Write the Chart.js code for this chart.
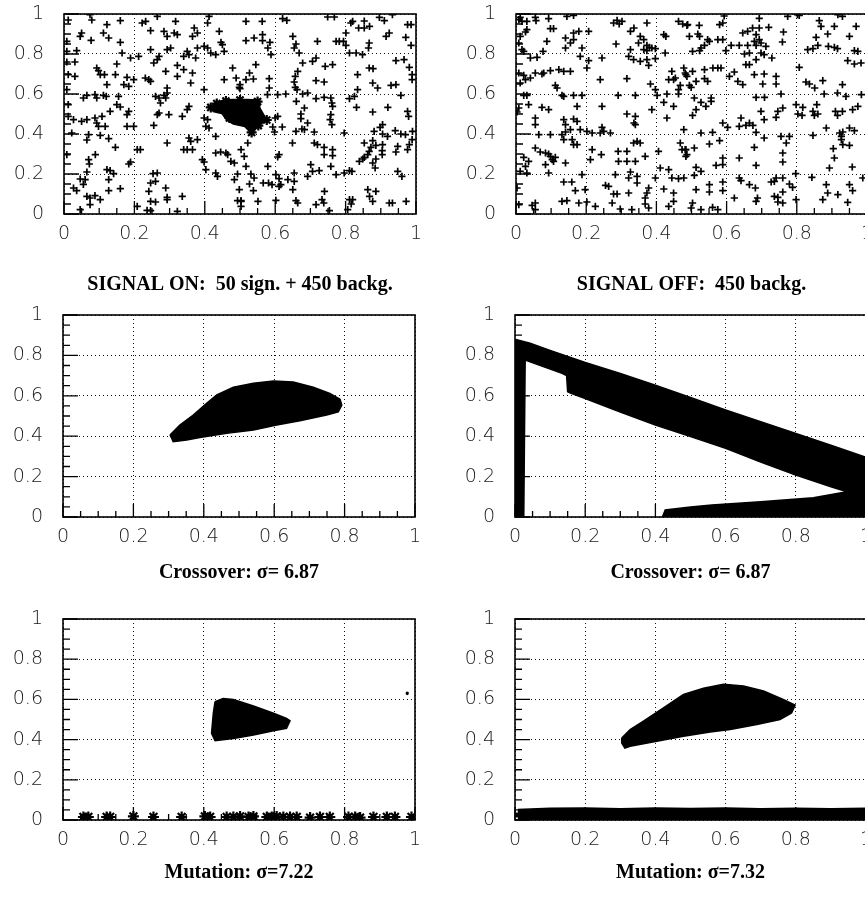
<!DOCTYPE html>
<html lang="en">
<head>
<meta charset="UTF-8">
<title>Signal / background scatter plots</title>
<script src="https://cdn.jsdelivr.net/npm/chart.js@4"></script>
<style>
  html, body { margin: 0; padding: 0; background: #fff; width: 865px; height: 898px; overflow: hidden; }
  canvas { position: absolute; }
</style>
</head>
<body>
<canvas id="p1" width="432" height="300" style="left:0px;top:0px;width:432px;height:300px"></canvas>
<canvas id="p2" width="432" height="300" style="left:452px;top:0px;width:432px;height:300px"></canvas>
<canvas id="p3" width="432" height="300" style="left:0px;top:300px;width:432px;height:300px"></canvas>
<canvas id="p4" width="432" height="300" style="left:451px;top:300px;width:432px;height:300px"></canvas>
<canvas id="p5" width="432" height="300" style="left:0px;top:600px;width:432px;height:300px"></canvas>
<canvas id="p6" width="432" height="300" style="left:451px;top:600px;width:432px;height:300px"></canvas>
<script>
// axis ticks
const tickValues = [0, 0.2, 0.4, 0.6, 0.8, 1];
const tickLabels = ['0', '0.2', '0.4', '0.6', '0.8', '1'];
const minorTicks = [0.05, 0.1, 0.15, 0.25, 0.3, 0.35, 0.45, 0.5, 0.55, 0.65, 0.7, 0.75, 0.85, 0.9, 0.95];

const titles = [
  'SIGNAL ON:  50 sign. + 450 backg.',
  'SIGNAL OFF:  450 backg.',
  'Crossover: \u03c3= 6.87',
  'Crossover: \u03c3= 6.87',
  'Mutation: \u03c3=7.22',
  'Mutation: \u03c3=7.32'
];

// top-left: background events (crosses) + signal cluster
const signalOnBackground = [
  [0.012,0.97],[0.074,0.997],[0.079,0.97],[0.122,0.947],[0.16,0.967],[0.222,0.955],[0.232,0.963],[0.265,0.988],[0.317,0.963],[0.412,0.988],[0.408,0.955],
  [0.05,0.905],[0.046,0.888],[0.077,0.868],[0.112,0.905],[0.127,0.88],[0.16,0.858],[0.246,0.917],[0.284,0.913],[0.293,0.888],[0.313,0.905],[0.322,0.897],[0.37,0.93],[0.379,0.905],[0.365,0.888],[0.441,0.913],[0.008,0.863],[0.446,0.858],[0.45,0.847],[0.398,0.838],[0.408,0.83],
  [0.036,0.817],[0.008,0.813],[0.165,0.805],[0.246,0.822],[0.293,0.822],[0.303,0.83],[0.35,0.813],[0.355,0.797],[0.379,0.83],[0.34,0.788],[0.374,0.78],[0.417,0.805],[0.431,0.797],[0.455,0.813],
  [0.008,0.76],[0.031,0.76],[0.189,0.78],[0.212,0.788],[0.265,0.772],[0.27,0.788],[0.255,0.755],[0.15,0.75],[0.093,0.73],[0.098,0.717],[0.322,0.743],[0.34,0.722],[0.289,0.713],[0.365,0.705],[0.479,0.73],
  [0.012,0.697],[0.031,0.688],[0.103,0.697],[0.115,0.697],[0.146,0.697],[0.179,0.683],[0.322,0.688],[0.455,0.672],[0.489,0.68],[0.198,0.672],[0.231,0.68],[0.241,0.672],[0.246,0.663],[0.36,0.655],[0.122,0.647],[0.17,0.647],[0.184,0.638],[0.293,0.63],[0.498,0.633],[0.008,0.622],
  [0.055,0.58],[0.065,0.593],[0.088,0.597],[0.112,0.593],[0.12,0.588],[0.093,0.58],[0.155,0.588],[0.26,0.588],[0.27,0.58],[0.284,0.593],[0.293,0.605],[0.274,0.555],[0.289,0.58],[0.398,0.622],
  [0.012,0.547],[0.15,0.547],[0.16,0.535],[0.184,0.513],[0.179,0.497],[0.131,0.513],[0.265,0.497],[0.27,0.505],[0.298,0.497],[0.35,0.522],[0.355,0.538],[0.336,0.488],
  [0.012,0.488],[0.027,0.472],[0.05,0.463],[0.065,0.472],[0.088,0.48],[0.093,0.455],[0.108,0.488],[0.098,0.438],[0.117,0.438],[0.179,0.438],[0.198,0.438],[0.255,0.443],[0.398,0.48],[0.408,0.472],[0.403,0.438],[0.412,0.43],
  [0.022,0.405],[0.07,0.397],[0.103,0.393],[0.127,0.377],[0.065,0.37],[0.355,0.38],[0.36,0.363],[0.379,0.372],[0.431,0.388],[0.293,0.355],[0.146,0.333],[0.208,0.322],[0.217,0.322],[0.34,0.322],[0.35,0.322],[0.365,0.322],[0.431,0.305],[0.445,0.31],[0.46,0.305],[0.465,0.297],[0.008,0.297],[0.089,0.297],
  [0.07,0.272],[0.072,0.25],[0.393,0.272],[0.398,0.26],[0.474,0.263],[0.484,0.255],[0.184,0.25],[0.189,0.26],[0.403,0.222],[0.122,0.222],[0.131,0.217],[0.065,0.21],[0.141,0.202],[0.253,0.202],[0.265,0.205],[0.431,0.205],[0.436,0.188],[0.484,0.172],[0.046,0.175],[0.06,0.172],[0.127,0.172],[0.246,0.155],[0.26,0.163],
  [0.027,0.13],[0.036,0.117],[0.055,0.148],[0.127,0.117],[0.16,0.127],[0.241,0.113],[0.289,0.13],[0.065,0.088],[0.074,0.08],[0.088,0.092],[0.103,0.072],[0.293,0.083],[0.293,0.072],[0.246,0.063],[0.26,0.06],[0.336,0.088],[0.493,0.067],[0.503,0.063],[0.074,0.047],[0.046,0.022],[0.208,0.038],[0.236,0.018],[0.246,0.017],[0.322,0.013],
  [0.517,0.963],[0.563,0.963],[0.621,0.977],[0.633,0.968],[0.749,0.985],[0.768,0.985],[0.815,0.955],[0.82,0.963],[0.853,0.965],[0.837,0.93],[0.853,0.93],[0.868,0.938],[0.896,0.983],[0.91,0.967],[0.933,0.997],[0.976,0.947],[0.986,0.947],[0.801,0.905],[0.924,0.905],[0.915,0.888],[0.971,0.883],
  [0.517,0.867],[0.54,0.88],[0.564,0.897],[0.564,0.867],[0.585,0.858],[0.65,0.888],[0.659,0.85],[0.72,0.863],[0.773,0.863],[0.782,0.863],[0.794,0.863],[0.801,0.843],[0.867,0.855],[0.865,0.83],[0.986,0.843],
  [0.579,0.83],[0.588,0.797],[0.654,0.83],[0.668,0.805],[0.811,0.805],[0.83,0.805],[0.848,0.797],[0.716,0.78],[0.706,0.763],[0.678,0.755],[0.742,0.738],[0.763,0.747],[0.943,0.767],[0.966,0.772],[0.981,0.733],[0.545,0.747],[0.527,0.705],[0.867,0.73],[0.878,0.727],[0.664,0.713],[0.834,0.697],[0.989,0.697],[0.989,0.672],
  [0.517,0.672],[0.538,0.675],[0.583,0.677],[0.657,0.688],[0.654,0.66],[0.657,0.633],[0.662,0.622],[0.716,0.667],[0.739,0.66],[0.877,0.655],[0.891,0.63],[0.929,0.643],[0.943,0.647],[0.5,0.647],[0.5,0.627],[0.583,0.63],
  [0.578,0.597],[0.607,0.597],[0.63,0.6],[0.678,0.6],[0.692,0.605],[0.739,0.583],[0.758,0.58],[0.761,0.555],[0.763,0.538],[0.811,0.577],[0.825,0.588],[0.834,0.622],[0.957,0.593],[0.66,0.563],[0.683,0.53],[0.716,0.577],[0.831,0.533],[0.877,0.51],[0.92,0.533],[0.976,0.513],[0.979,0.488],
  [0.607,0.488],[0.6,0.48],[0.673,0.5],[0.673,0.477],[0.758,0.497],[0.756,0.472],[0.761,0.447],[0.692,0.455],[0.905,0.447],[0.898,0.433],[0.593,0.435],[0.598,0.41],[0.62,0.435],[0.659,0.413],[0.676,0.425],[0.683,0.422],[0.711,0.41],[0.796,0.405],[0.881,0.413],[0.905,0.4],[0.919,0.388],[0.941,0.417],[0.957,0.4],[0.97,0.397],[0.99,0.413],[0.989,0.372],
  [0.522,0.355],[0.649,0.355],[0.711,0.355],[0.72,0.347],[0.853,0.355],[0.877,0.367],[0.872,0.333],[0.886,0.343],[0.905,0.347],[0.948,0.338],[0.981,0.347],[0.976,0.322],[0.739,0.333],[0.763,0.322],[0.503,0.322],[0.867,0.313],[0.863,0.297],[0.904,0.317],[0.904,0.297],[0.739,0.297],[0.763,0.292],[0.943,0.31],[0.512,0.288],[0.611,0.297],[0.607,0.285],[0.849,0.275],[0.839,0.263],[0.853,0.283],[0.886,0.275],[0.877,0.255],
  [0.517,0.238],[0.579,0.238],[0.701,0.247],[0.758,0.238],[0.884,0.23],[0.706,0.213],[0.654,0.205],[0.725,0.217],[0.811,0.217],[0.818,0.213],[0.796,0.205],[0.773,0.197],[0.948,0.213],[0.96,0.188],[0.493,0.2],[0.531,0.2],[0.54,0.18],[0.602,0.197],[0.611,0.177],[0.636,0.172],[0.654,0.163],[0.692,0.188],
  [0.566,0.155],[0.581,0.155],[0.591,0.147],[0.611,0.138],[0.616,0.147],[0.527,0.15],[0.65,0.122],[0.498,0.122],[0.538,0.117],[0.74,0.113],[0.863,0.122],[0.886,0.113],[0.551,0.063],[0.602,0.068],[0.659,0.067],[0.664,0.055],[0.733,0.072],[0.738,0.055],[0.716,0.047],[0.811,0.072],[0.82,0.072],[0.816,0.05],[0.868,0.088],[0.877,0.063],[0.924,0.055],[0.933,0.055],[0.972,0.063],[0.503,0.067],[0.503,0.038],[0.806,0.022],[0.754,0.017]
];
const signalOnCluster = [
  [0.417,0.533],[0.434,0.55],[0.453,0.57],[0.481,0.573],[0.519,0.573],[0.552,0.57],[0.557,0.528],[0.576,0.47],[0.552,0.44],[0.533,0.403],
  [0.514,0.437],[0.481,0.45],[0.462,0.47],[0.448,0.503],[0.424,0.512],[0.417,0.533]
];
const signalOnStars = [[0.417,0.533],[0.434,0.552],[0.576,0.47],[0.552,0.442],[0.533,0.408],[0.536,0.472],[0.46,0.565],[0.55,0.562],[0.5,0.57],[0.47,0.48]];

// top-right: background only
const signalOffBackground = [
  [0.008,0.972],[0.017,0.963],[0.012,0.983],[0.031,0.963],[0.055,0.983],[0.057,0.967],[0.093,0.977],[0.145,0.988],[0.164,0.993],
  [0.027,0.91],[0.031,0.922],[0.098,0.927],[0.107,0.927],[0.012,0.888],[0.008,0.855],[0.088,0.863],[0.141,0.88],[0.164,0.905],[0.179,0.913],[0.155,0.855],[0.164,0.872],[0.207,0.913],
  [0.278,0.955],[0.288,0.968],[0.302,0.963],[0.294,0.95],[0.373,0.955],[0.326,0.913],[0.336,0.93],[0.463,0.963],[0.475,0.95],[0.487,0.943],[0.421,0.897],[0.427,0.888],[0.354,0.888],[0.349,0.855],[0.364,0.872],[0.373,0.843],[0.285,0.85],
  [0.141,0.83],[0.188,0.83],[0.017,0.822],[0.022,0.813],[0.077,0.813],[0.364,0.822],[0.373,0.817],[0.387,0.83],[0.397,0.827],[0.38,0.833],[0.326,0.822],[0.425,0.805],
  [0.041,0.78],[0.06,0.783],[0.183,0.788],[0.245,0.78],[0.321,0.788],[0.335,0.772],[0.354,0.763],[0.373,0.772],[0.378,0.743],[0.397,0.777],[0.207,0.767],[0.202,0.73],
  [0.008,0.705],[0.022,0.693],[0.055,0.705],[0.074,0.7],[0.079,0.705],[0.098,0.717],[0.122,0.722],[0.136,0.713],[0.155,0.713],[0.041,0.68],[0.027,0.672],[0.012,0.655],[0.24,0.672],[0.316,0.677],
  [0.444,0.713],[0.454,0.68],[0.435,0.672],[0.449,0.672],[0.478,0.73],[0.482,0.705],[0.487,0.688],[0.468,0.643],[0.463,0.622],[0.383,0.65],[0.397,0.622],[0.112,0.643],[0.117,0.63],
  [0.022,0.593],[0.031,0.593],[0.131,0.593],[0.136,0.588],[0.164,0.593],[0.188,0.593],[0.291,0.593],[0.34,0.593],[0.402,0.593],[0.43,0.6],[0.463,0.6],
  [0.036,0.547],[0.008,0.53],[0.003,0.51],[0.074,0.533],[0.093,0.522],[0.174,0.538],[0.245,0.538],[0.387,0.522],[0.421,0.558],[0.449,0.538],[0.316,0.5],[0.34,0.488],[0.43,0.48],
  [0.055,0.48],[0.055,0.447],[0.136,0.472],[0.141,0.447],[0.164,0.475],[0.174,0.463],[0.336,0.455],[0.34,0.447],[0.245,0.433],[0.25,0.413],[0.478,0.422],[0.155,0.422],[0.183,0.422],[0.202,0.413],[0.217,0.405],[0.24,0.405],[0.269,0.405],[0.065,0.397],[0.098,0.397],[0.131,0.397],[0.141,0.41],
  [0.16,0.372],[0.164,0.347],[0.174,0.347],[0.136,0.372],[0.335,0.355],[0.345,0.363],[0.354,0.355],[0.468,0.355],[0.473,0.322],[0.482,0.322],[0.487,0.297],
  [0.055,0.33],[0.069,0.31],[0.084,0.305],[0.093,0.3],[0.098,0.288],[0.103,0.272],[0.107,0.263],[0.112,0.283],[0.141,0.255],[0.084,0.247],[0.022,0.283],[0.036,0.263],[0.027,0.238],
  [0.217,0.322],[0.243,0.297],[0.212,0.272],[0.291,0.313],[0.316,0.313],[0.292,0.263],[0.316,0.263],[0.34,0.263],[0.406,0.313],[0.411,0.23],[0.368,0.288],
  [0.012,0.213],[0.031,0.205],[0.093,0.205],[0.188,0.197],[0.283,0.197],[0.326,0.21],[0.321,0.18],[0.345,0.188],[0.397,0.18],[0.444,0.18],[0.463,0.177],[0.478,0.18],[0.435,0.222],
  [0.136,0.16],[0.159,0.16],[0.003,0.13],[0.169,0.117],[0.197,0.122],[0.255,0.143],[0.264,0.138],[0.345,0.155],[0.378,0.13],[0.373,0.105],[0.421,0.125],[0.449,0.105],[0.278,0.1],[0.288,0.1],[0.321,0.105],
  [0.131,0.063],[0.145,0.067],[0.179,0.055],[0.202,0.06],[0.226,0.038],[0.274,0.055],[0.368,0.08],[0.368,0.05],[0.378,0.03],[0.449,0.063],[0.435,0.038],[0.008,0.047],[0.046,0.043],[0.055,0.055],[0.055,0.022],[0.297,0.025],[0.33,0.022],
  [0.489,0.947],[0.522,0.943],[0.494,0.888],[0.518,0.9],[0.523,0.888],[0.546,0.872],[0.551,0.863],[0.575,0.872],[0.589,0.872],[0.58,0.947],[0.589,0.955],[0.593,0.99],
  [0.527,0.83],[0.523,0.817],[0.503,0.813],[0.537,0.843],[0.598,0.817],[0.613,0.843],[0.636,0.843],[0.66,0.843],[0.684,0.843],[0.712,0.838],
  [0.646,0.905],[0.66,0.913],[0.674,0.93],[0.693,0.93],[0.684,0.897],[0.693,0.872],[0.679,0.863],[0.698,0.855],[0.693,0.978],[0.72,0.933],[0.762,0.91],[0.759,0.86],[0.802,0.997],[0.807,0.993],[0.774,0.988],[0.864,0.967],[0.869,0.938],[0.888,0.9],[0.907,0.938],[0.917,0.997],[0.93,0.988],[0.969,0.938],[0.95,0.888],[0.855,0.883],
  [0.86,0.843],[0.831,0.822],[0.846,0.827],[0.89,0.838],[0.907,0.833],[0.916,0.827],[0.964,0.817],[0.974,0.813],
  [0.651,0.8],[0.665,0.805],[0.698,0.805],[0.707,0.797],[0.684,0.772],[0.729,0.78],[0.945,0.767],[0.964,0.75],[0.983,0.755],
  [0.575,0.73],[0.584,0.73],[0.537,0.722],[0.561,0.73],[0.655,0.747],[0.665,0.747],[0.503,0.713],[0.807,0.733],[0.608,0.688],[0.622,0.71],[0.679,0.697],[0.707,0.7],[0.741,0.688],[0.484,0.697],
  [0.513,0.663],[0.537,0.677],[0.546,0.663],[0.632,0.663],[0.646,0.647],[0.703,0.65],[0.741,0.65],[0.826,0.66],[0.836,0.65],[0.874,0.667],[0.851,0.63],[0.93,0.647],[0.494,0.643],[0.499,0.633],
  [0.508,0.58],[0.527,0.558],[0.556,0.58],[0.556,0.563],[0.541,0.538],[0.513,0.522],[0.503,0.493],[0.684,0.583],[0.708,0.583],[0.755,0.6],
  [0.798,0.547],[0.803,0.5],[0.815,0.493],[0.817,0.533],[0.857,0.547],[0.846,0.513],[0.86,0.5],[0.85,0.493],[0.878,0.6],[0.916,0.605],[0.94,0.588],[0.91,0.513],[0.916,0.493],[0.93,0.513],[0.959,0.522],[0.974,0.538],[0.984,0.597],
  [0.698,0.513],[0.746,0.513],[0.76,0.53],[0.741,0.483],[0.707,0.472],[0.641,0.48],[0.636,0.438],[0.655,0.443],[0.665,0.455],[0.675,0.443],[0.589,0.455],[0.603,0.433],
  [0.527,0.405],[0.56,0.408],[0.684,0.408],[0.707,0.38],[0.755,0.388],[0.77,0.355],[0.779,0.388],[0.846,0.393],[0.884,0.43],[0.922,0.405],[0.927,0.388],[0.931,0.41],[0.95,0.43],[0.964,0.417],[0.927,0.372],[0.931,0.347],[0.95,0.343],
  [0.551,0.35],[0.58,0.367],[0.508,0.33],[0.484,0.322],[0.484,0.288],[0.679,0.333],[0.76,0.305],[0.76,0.26],[0.904,0.327],[0.907,0.28],[0.636,0.28],[0.589,0.28],[0.589,0.247],[0.684,0.243],
  [0.513,0.233],[0.527,0.213],[0.508,0.193],[0.57,0.243],[0.636,0.18],[0.641,0.167],[0.727,0.16],[0.736,0.163],[0.741,0.18],[0.76,0.18],[0.797,0.202],[0.843,0.183],[0.893,0.23],[0.958,0.235],[0.988,0.18],
  [0.665,0.147],[0.682,0.13],[0.779,0.15],[0.788,0.133],[0.589,0.16],[0.551,0.147],[0.551,0.11],[0.884,0.147],[0.888,0.105],[0.917,0.097],[0.95,0.147],[0.959,0.117],[0.513,0.122],[0.589,0.117],
  [0.736,0.088],[0.746,0.083],[0.76,0.11],[0.622,0.08],[0.684,0.063],[0.688,0.08],[0.798,0.072],[0.874,0.072],[0.945,0.058],[0.503,0.055],[0.499,0.03],[0.527,0.022],[0.56,0.033],[0.575,0.022],[0.746,0.06],[0.76,0.055]
];

// middle-left: crossover region, signal on
const crossoverOnRegion = [
  [0.304,0.406],[0.332,0.455],[0.37,0.505],[0.408,0.563],[0.437,0.604],[0.484,0.642],[0.541,0.662],[0.598,0.673],[0.654,0.668],[0.711,0.642],[0.758,0.612],
  [0.787,0.583],[0.792,0.554],[0.782,0.521],[0.749,0.505],[0.673,0.477],[0.607,0.455],[0.541,0.431],[0.465,0.414],[0.389,0.394],[0.351,0.381],[0.313,0.373],[0.309,0.389],[0.304,0.406]
];

// middle-right: crossover region, signal off
const crossoverOffRegion = [
  [0,0],[0,0.88],[0.043,0.86],[0.1,0.825],[0.2,0.765],[0.3,0.71],[0.4,0.652],[0.5,0.592],[0.6,0.53],[0.7,0.472],[0.8,0.414],[0.9,0.355],
  [1,0.295],[1,0],[0.42,0],[0.428,0.035],[0.5,0.05],[0.561,0.06],[0.7,0.075],[0.85,0.095],[0.946,0.125],
  [0.9,0.15],[0.8,0.208],[0.7,0.272],[0.6,0.34],[0.5,0.398],[0.4,0.455],[0.3,0.52],[0.2,0.587],[0.16,0.612],[0.15,0.62],[0.147,0.7],[0.134,0.711],
  [0.029,0.777],[0.027,0.4],[0.025,0],[0,0]
];

// bottom-left: mutation, signal on
const mutationOnRegion = [
  [0.432,0.589],[0.455,0.605],[0.484,0.6],[0.541,0.567],[0.598,0.531],[0.635,0.506],[0.645,0.494],[0.635,0.456],[0.598,0.444],[0.541,0.423],
  [0.484,0.406],[0.432,0.395],[0.422,0.431],[0.427,0.531],[0.432,0.589]
];
const mutationOnStars = [
  [0.058,0.015],[0.072,0.015],[0.124,0.015],[0.134,0.015],[0.2,0.018],[0.257,0.015],[0.337,0.015],[0.403,0.018],[0.418,0.015],[0.465,0.015],[0.484,0.015],
  [0.503,0.018],[0.527,0.015],[0.541,0.018],[0.579,0.015],[0.593,0.015],[0.607,0.018],[0.626,0.015],[0.645,0.015],[0.664,0.015],[0.702,0.012],[0.73,0.015],
  [0.758,0.015],[0.811,0.015],[0.83,0.015],[0.844,0.012],[0.882,0.015],[0.92,0.015],[0.943,0.015],[0.99,0.015]
];
const mutationOnStray = [[0.978,0.63]];

// bottom-right: mutation, signal off
const mutationOffRegion = [
  [0.304,0.408],[0.328,0.45],[0.366,0.492],[0.423,0.558],[0.48,0.625],[0.537,0.655],[0.594,0.675],[0.651,0.667],[0.708,0.642],[0.764,0.6],[0.798,0.572],
  [0.788,0.533],[0.755,0.5],[0.689,0.475],[0.613,0.45],[0.556,0.438],[0.48,0.417],[0.404,0.392],[0.328,0.367],[0.313,0.358],[0.304,0.383],[0.304,0.408]
];
const mutationOffBand = [
  [0.01,0.003],[0.01,0.052],[0.1,0.058],[0.2,0.06],[0.3,0.056],[0.4,0.06],[0.5,0.057],[0.6,0.06],[0.7,0.056],[0.8,0.058],[0.9,0.056],[1,0.058],[1,0.003],[0.01,0.003]
];
const mutationOffCorner = [[0.004,0.025]];

const toXY = arr => arr.map(p => ({x: p[0], y: p[1]}));

const crosses = arr => ({
  data: toXY(arr), pointStyle: 'cross', pointRadius: 3.6, borderWidth: 1.7,
  borderColor: '#000', backgroundColor: '#000'
});
const stars = (arr, r) => ({
  data: toXY(arr), pointStyle: 'star', pointRadius: r, borderWidth: 2.2,
  borderColor: '#000', backgroundColor: '#000'
});
const region = arr => ({
  data: toXY(arr), showLine: true, fill: 'shape', tension: 0, pointRadius: 0,
  borderWidth: 1.5, borderColor: '#000', backgroundColor: '#000'
});

// inner tick marks on left and bottom axes, then the box frame
const framePlugin = {
  id: 'frame',
  beforeDatasetsDraw(chart) {
    const {ctx, chartArea: a, scales: {x, y}} = chart;
    ctx.save();
    ctx.strokeStyle = '#000';
    ctx.lineWidth = 1.3;
    ctx.beginPath();
    minorTicks.forEach(v => {
      const px = x.getPixelForValue(v), py = y.getPixelForValue(v);
      ctx.moveTo(px, a.bottom); ctx.lineTo(px, a.bottom - 6);
      ctx.moveTo(a.left, py); ctx.lineTo(a.left + 7, py);
    });
    tickValues.forEach(v => {
      const px = x.getPixelForValue(v), py = y.getPixelForValue(v);
      ctx.moveTo(px, a.bottom); ctx.lineTo(px, a.bottom - 13);
      ctx.moveTo(a.left, py); ctx.lineTo(a.left + 15, py);
    });
    ctx.stroke();
    ctx.restore();
  },
  afterDatasetsDraw(chart) {
    const {ctx, chartArea: a} = chart;
    ctx.save();
    ctx.strokeStyle = '#000';
    ctx.lineWidth = 1.6;
    ctx.strokeRect(a.left, a.top, a.right - a.left, a.bottom - a.top);
    ctx.restore();
  }
};

const rows = [
  {top: 14, bottom: 214, titlePadBottom: 3},
  {top: 15, bottom: 217, titlePadBottom: 15},
  {top: 19, bottom: 220, titlePadBottom: 15}
];

const tickFont = {family: 'DejaVu Sans', size: 19, weight: '300'};

function makeChart(id, row, axisWidth, plotWidth, title, datasets) {
  const r = rows[row];
  const titleFont = {family: 'Liberation Serif', size: 20, weight: 'bold', lineHeight: 1.2};
  const titleH = 24 + 4 + r.titlePadBottom;
  const xAxisH = 300 - r.bottom - titleH;
  const axisCommon = {
    type: 'linear', min: 0, max: 1,
    afterBuildTicks: s => { s.ticks = tickValues.map(v => ({value: v})); },
    grid: {drawTicks: false, color: '#111', lineWidth: 1},
    border: {display: false, dash: [1, 3]}
  };
  return new Chart(document.getElementById(id), {
    type: 'scatter',
    data: {datasets},
    options: {
      responsive: false,
      animation: false,
      devicePixelRatio: 1,
      layout: {padding: {top: r.top, left: 0, right: 432 - axisWidth - plotWidth, bottom: 0}},
      plugins: {
        legend: {display: false},
        tooltip: {enabled: false},
        title: {
          display: true, text: title, position: 'bottom', fullSize: false,
          color: '#000', font: titleFont, padding: {top: 4, bottom: r.titlePadBottom}
        }
      },
      scales: {
        x: Object.assign({}, axisCommon, {
          afterFit: s => { s.height = xAxisH; s.paddingLeft = 0; s.paddingRight = 0; },
          ticks: {padding: 9, color: '#1a1a1a', font: tickFont, maxRotation: 0, autoSkip: false,
                  callback: (v, i) => tickLabels[i]}
        }),
        y: Object.assign({}, axisCommon, {
          afterFit: s => { s.width = axisWidth; s.paddingTop = 0; s.paddingBottom = 0; },
          ticks: {padding: 20, color: '#1a1a1a', font: tickFont, autoSkip: false,
                  callback: (v, i) => tickLabels[i]}
        })
      }
    },
    plugins: [framePlugin]
  });
}

makeChart('p1', 0, 64, 352, titles[0], [
  region(signalOnCluster), stars(signalOnStars, 5), crosses(signalOnBackground)
]);
makeChart('p2', 0, 64, 351, titles[1], [crosses(signalOffBackground)]);
makeChart('p3', 1, 63, 352, titles[2], [region(crossoverOnRegion)]);
makeChart('p4', 1, 64, 351, titles[3], [region(crossoverOffRegion)]);
makeChart('p5', 2, 63, 352, titles[4], [
  region(mutationOnRegion), stars(mutationOnStars, 5.5), stars(mutationOnStray, 1.5)
]);
makeChart('p6', 2, 64, 351, titles[5], [
  region(mutationOffRegion), region(mutationOffBand), stars(mutationOffCorner, 2.5)
]);
</script>
</body>
</html>
